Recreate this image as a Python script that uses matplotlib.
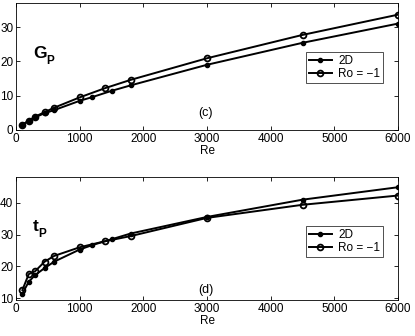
import matplotlib
matplotlib.use("Agg")
import matplotlib.pyplot as plt

plt.rcParams["font.family"] = ["Liberation Sans", "DejaVu Sans"]

# Data
re_2d = [100, 200, 300, 450, 600, 1000, 1200, 1500, 1800, 3000, 4500, 6000]
re_ro = [100, 200, 300, 450, 600, 1000, 1400, 1800, 3000, 4500, 6000]

gp_2d = [1.5, 2.7, 3.7, 4.9, 5.8, 8.5, 9.6, 11.4, 13.0, 19.0, 25.4, 31.0]
gp_ro = [1.5, 2.7, 3.9, 5.2, 6.5, 9.5, 12.2, 14.6, 20.9, 27.7, 33.6]

tp_2d = [11.5, 15.2, 17.3, 19.5, 21.5, 25.3, 26.7, 28.5, 30.3, 35.5, 40.9, 44.8]
tp_ro = [12.6, 17.6, 18.5, 21.5, 23.3, 26.0, 27.9, 29.5, 35.2, 39.3, 42.2]

xticks = [0, 1000, 2000, 3000, 4000, 5000, 6000]

fig = plt.figure(figsize=(4.15, 3.36), dpi=100)
W, H = 415, 336
ax1 = fig.add_axes([16 / W, 1 - 130 / H, 382 / W, 127 / H])
ax2 = fig.add_axes([16 / W, 1 - 300 / H, 382 / W, 123 / H])

panels = [
    (ax1, gp_2d, gp_ro, (0, 37), [0, 10, 20, 30], "G", 0.078, "(c)", 0.135, 0.615),
    (ax2, tp_2d, tp_ro, (9.5, 48), [10, 20, 30, 40], "t", 0.058, "(d)", 0.08, 0.60),
]

for ax, y2d, yro, ylim, yticks, sym, sub_x, tag, tag_y, leg_y in panels:
    ax.plot(re_2d, y2d, "-", color="black", lw=1.4, marker="o", ms=3,
            mfc="black", mec="black", label="2D")
    ax.plot(re_ro, yro, "-", color="black", lw=1.4, marker="o", ms=4.2,
            mfc="none", mec="black", mew=1.3, label="Ro = \u22121")
    ax.set_xlim(0, 6000)
    ax.set_ylim(*ylim)
    ax.set_xticks(xticks)
    ax.set_yticks(yticks)
    ax.tick_params(direction="in", top=True, right=True, labelsize=8.5,
                   length=3, width=0.6, pad=2)
    for s in ax.spines.values():
        s.set_linewidth(0.6)
    ax.set_xlabel("Re", fontsize=8.5, labelpad=0)
    ax.text(0.045, 0.60, sym, transform=ax.transAxes, fontsize=12.5,
            fontweight="bold", va="center", ha="left")
    ax.text(sub_x, 0.54, "P", transform=ax.transAxes, fontsize=8.5,
            fontweight="bold", va="center", ha="left")
    ax.text(0.477, tag_y, tag, transform=ax.transAxes, fontsize=9,
            va="center", ha="left")
    leg = ax.legend(loc="upper right", bbox_to_anchor=(0.961, leg_y),
                    fontsize=8.5, frameon=True, fancybox=False,
                    edgecolor="black", borderpad=0.25, handlelength=2.0,
                    handletextpad=0.5, labelspacing=0.1, borderaxespad=0)
    leg.get_frame().set_linewidth(0.6)

fig.savefig("out.png", dpi=100)
